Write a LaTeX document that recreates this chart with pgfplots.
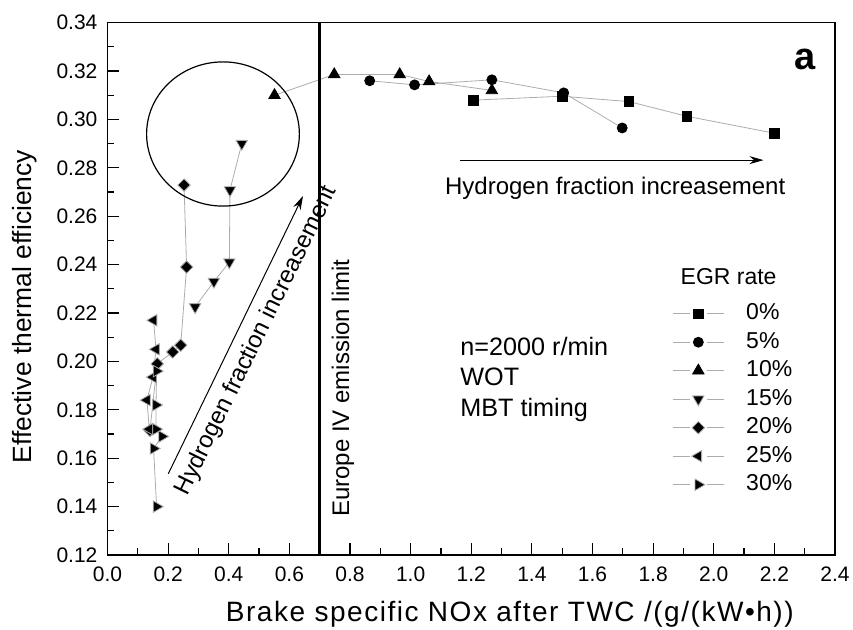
\documentclass[border=0pt]{standalone}
\usepackage{pgfplots}
\pgfplotsset{compat=1.18}
\usepackage{fontspec}
\setmainfont{Liberation Sans}
\usetikzlibrary{arrows.meta}

\newcommand{\fs}[1]{\fontsize{#1}{1.2\dimexpr#1pt\relax}\selectfont}

\begin{document}
\begin{tikzpicture}
\path[use as bounding box] (-53.75pt,-37.5pt) rectangle (372.75pt,277.5pt);
\begin{axis}[
    scale only axis,
    width=363.75pt, height=266.15pt,
    xmin=0, xmax=2.4, ymin=0.12, ymax=0.34,
    xtick={0,0.2,0.4,0.6,0.8,1.0,1.2,1.4,1.6,1.8,2.0,2.2,2.4},
    ytick={0.12,0.14,0.16,0.18,0.20,0.22,0.24,0.26,0.28,0.30,0.32,0.34},
    minor x tick num=1, minor y tick num=1,
    tick pos=left, tick align=inside,
    major tick length=6pt, minor tick length=3.5pt,
    axis line style={line width=0.6pt},
    every tick/.style={black, line width=0.6pt},
    tick label style={font=\fs{10.5}},
    /pgf/number format/assume math mode=true,
    x tick label style={yshift=-2.5pt, /pgf/number format/.cd, fixed, fixed zerofill, precision=1},
    y tick label style={xshift=-1.5pt, /pgf/number format/.cd, fixed, fixed zerofill, precision=2},
    scaled ticks=false,
    label style={font=\fs{13.2}},
    xlabel={\addfontfeatures{LetterSpace=5.5}\fs{14}Brake specific NOx after TWC /(g/(kW•h))},
    ylabel={Effective thermal efficiency},
    xlabel style={at={(axis description cs:0.553,-0.111)}, anchor=center},
    ylabel style={at={(axis description cs:-0.1134,0.4668)}, anchor=center},
    every axis plot/.append style={draw=gray!65, line width=0.4pt,
        mark options={fill=black, draw=black, solid}},
    legend style={draw=none, fill=none, inner sep=0pt,
        at={(axis description cs:0.776,0.4766)}, anchor=north west,
        row sep=2.25pt, column sep=10pt, font=\fs{11.5},
        nodes={inner sep=1pt, text height=8pt, text depth=2pt}},
    legend cell align=left,
    legend image code/.code={
        \draw[#1, mark=none] (0pt,0pt) -- (8.5pt,0pt);
        \draw[#1, mark=none] (17pt,0pt) -- (25.5pt,0pt);
        \draw[#1, only marks] plot coordinates {(12.75pt,0pt)};
    },
]

% 0% EGR
\addplot[mark=square*, mark size=2.4pt] coordinates {
    (1.207,0.308) (1.500,0.3096) (1.720,0.3074) (1.912,0.3013) (2.201,0.2943)
};
% 5% EGR
\addplot[mark=*, mark size=2.5pt] coordinates {
    (0.865,0.316) (1.013,0.3143) (1.268,0.3164) (1.505,0.311) (1.698,0.2965)
};
% 10% EGR
\addplot[mark=triangle*, mark size=3.3pt] coordinates {
    (0.551,0.310) (0.748,0.3186) (0.964,0.3186) (1.061,0.3157) (1.268,0.312)
};
% 15% EGR
\addplot[mark=triangle*, mark size=3.3pt, mark options={rotate=180}] coordinates {
    (0.443,0.290) (0.404,0.2708) (0.402,0.241) (0.351,0.233) (0.289,0.2225)
};
% 20% EGR
\addplot[mark=square*, mark size=2.2pt, mark options={rotate=45}] coordinates {
    (0.2525,0.2729) (0.261,0.239) (0.2415,0.2067) (0.215,0.2039) (0.164,0.199) (0.140,0.1715)
};
% 25% EGR
\addplot[mark=triangle*, mark size=3.3pt, mark options={rotate=90}] coordinates {
    (0.152,0.217) (0.160,0.205) (0.150,0.1935) (0.130,0.184) (0.138,0.172)
};
% 30% EGR
\addplot[mark=triangle*, mark size=3.3pt, mark options={rotate=-90}] coordinates {
    (0.162,0.140) (0.152,0.164) (0.180,0.169) (0.160,0.172) (0.160,0.182) (0.162,0.196)
};
\legend{0\%, 5\%, 10\%, 15\%, 20\%, 25\%, 30\%}

% Europe IV limit
\addplot[draw=black, line width=1.4pt, mark=none, forget plot] coordinates {(0.7,0.12) (0.7,0.34)};

\draw[line width=0.6pt] (axis cs:0.381,0.294) ellipse [x radius=0.252, y radius=0.0298];

\draw[line width=0.5pt, -{Stealth[length=7pt, width=4pt]}] (axis cs:0.2007,0.1536) -- (axis cs:0.645,0.2684);
\draw[line width=0.5pt, -{Stealth[length=7pt, width=4pt]}] (axis cs:1.163,0.2832) -- (axis cs:2.164,0.2832);

\node[font=\fs{12}, rotate=64] at (axis cs:0.492,0.2085) {Hydrogen fraction increasement};
\node[font=\fs{12}] at (axis cs:1.675,0.2715) {Hydrogen fraction increasement};
\node[font=\fs{12}, rotate=90] at (axis cs:0.777,0.1889) {Europe IV emission limit};

\node[font=\fs{12.6}, anchor=west] at (axis cs:1.141,0.206) {n=2000 r/min};
\node[font=\fs{12.6}, anchor=west] at (axis cs:1.141,0.1935) {WOT};
\node[font=\fs{12.6}, anchor=west] at (axis cs:1.141,0.180) {MBT timing};

\node[font=\fs{11.5}] at (axis cs:2.049,0.235) {EGR rate};
\node[font=\bfseries\fs{19}] at (axis cs:2.302,0.325) {a};
\end{axis}
\end{tikzpicture}
\end{document}
